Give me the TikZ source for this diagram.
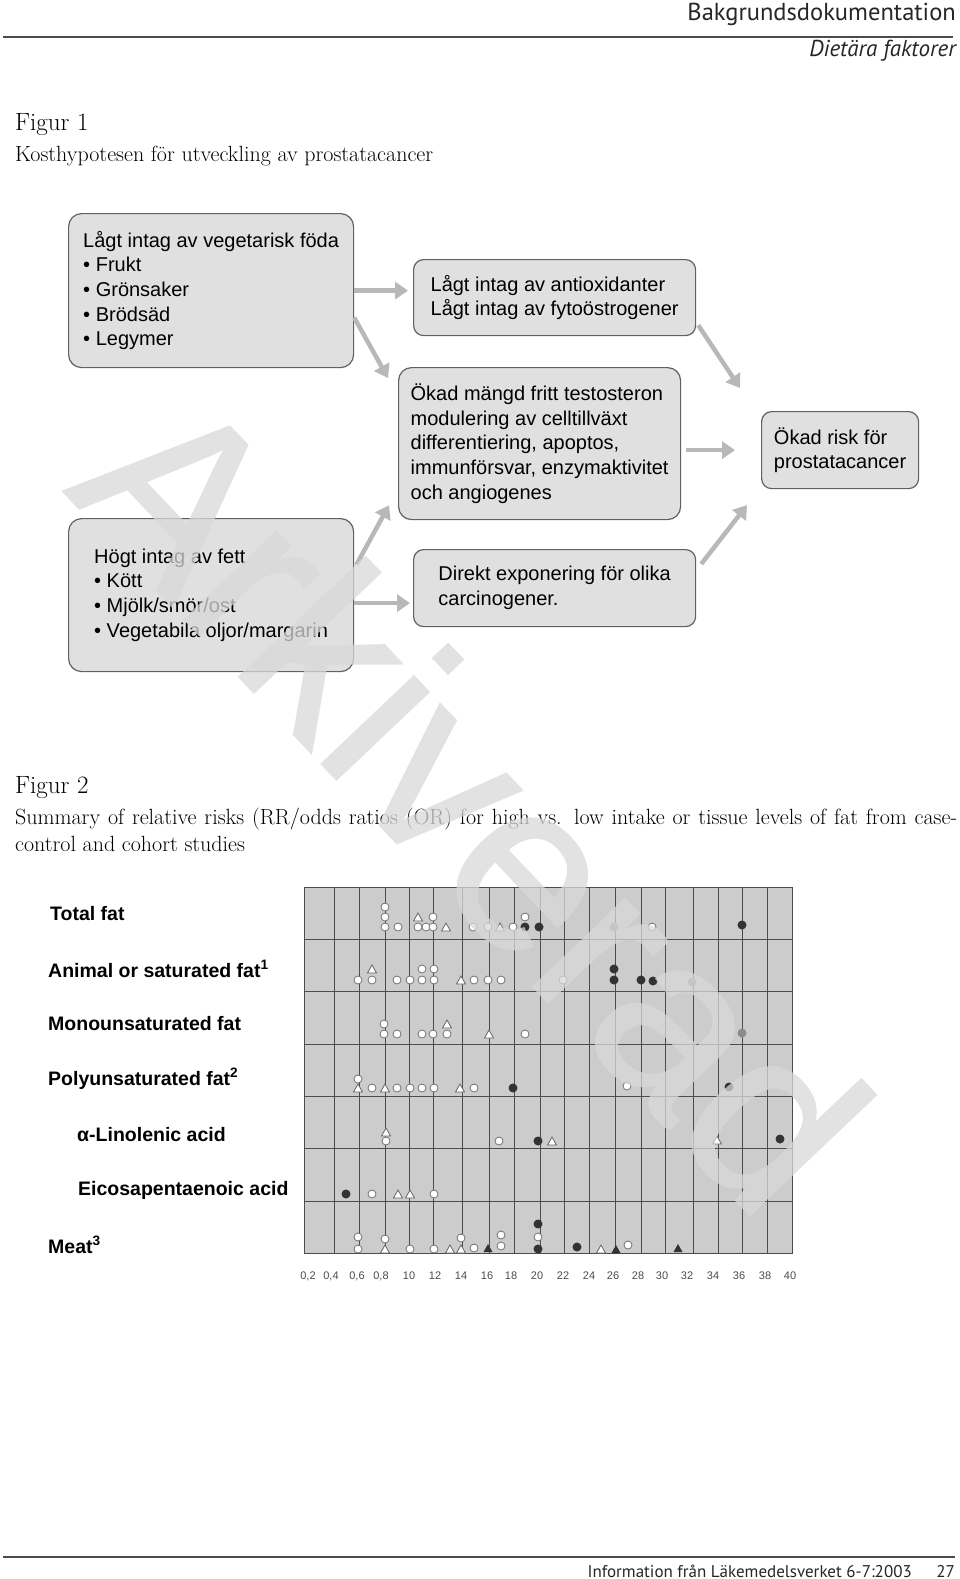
\documentclass[tikz,border=0pt]{standalone}
\usepackage{fontspec}
\newfontfamily\arialfont{Liberation Sans}
\newfontfamily\wmfont[FakeBold=1]{Liberation Sans}
\newfontfamily\headfont{PT Sans}
\usetikzlibrary{arrows.meta}

\begin{document}
\begin{tikzpicture}[
  x=1pt,y=-1pt,
  headtxt/.style={anchor=base east,inner sep=0pt,text=black!85},
  pagerule/.style={draw=black!70,line width=1.3pt},
  captxt/.style={anchor=base west,inner sep=0pt,font=\fontsize{22}{26}\selectfont},
  box/.style={draw=black!62,line width=1.2pt,fill=black!12,rounded corners=13pt,anchor=north west,
    align=left,inner sep=0pt,font=\arialfont\fontsize{20}{24.7}\selectfont},
  flow/.style={-{Triangle[length=13pt,width=17pt]},line width=4.5pt,draw=black!28},
  lbl/.style={anchor=west,inner sep=0pt,font=\arialfont\bfseries\fontsize{19.5}{20}\selectfont},
  tick/.style={inner sep=0pt,text=black!70,font=\arialfont\fontsize{11}{11}\selectfont},
  chartbg/.style={fill=black!20},
  gridln/.style={draw=black!70,line width=1pt},
  ocirc/.style={draw=black!55,fill=white,line width=.8pt},
  otri/.style={draw=black!60,fill=white,line width=.8pt},
  fdot/.style={fill=black!80},
  gdot/.style={fill=black!45},
  wmark/.style={inner sep=0pt,text=black!15,font=\wmfont\fontsize{240}{240}\selectfont}
]
\useasboundingbox (0,0) rectangle (960,1579);
\fill[white] (0,0) rectangle (960,1579);

% page header
\node[headtxt,font=\headfont\fontsize{24.5}{24}\selectfont] (head) at (956,21) {Bakgrundsdokumentation};
\draw[pagerule] (3,37) -- (953,37);
\node[headtxt,font=\headfont\itshape\fontsize{23}{21}\selectfont] (sect) at (956,57) {Dietära faktorer};

% Figur 1
\node[captxt,font=\fontsize{25}{25}\selectfont] (fig1) at (15,130) {Figur 1};
\node[captxt] (fig1txt) at (15,161) {Kosthypotesen för utveckling av prostatacancer};

\node[box,minimum width=285pt,minimum height=154pt] (veg) at (68,213)
  {Lågt intag av vegetarisk föda\\• Frukt\\• Grönsaker\\• Brödsäd\\• Legymer};
\node[box,rounded corners=10pt,minimum width=282pt,minimum height=76pt] (anti) at (413,259)
  {Lågt intag av antioxidanter\\Lågt intag av fytoöstrogener};
\node[box,minimum width=282pt,minimum height=152pt] (testo) at (398,367)
  {Ökad mängd fritt testosteron\\modulering av celltillväxt\\differentiering, apoptos,\\immunförsvar, enzymaktivitet\\och angiogenes};
\node[box,rounded corners=10pt,minimum width=157pt,minimum height=77pt] (risk) at (761,411)
  {Ökad risk för\\prostatacancer};
\node[box,minimum width=285pt,minimum height=153pt] (fett) at (68,518)
  {Högt intag av fett\\• Kött\\• Mjölk/smör/ost\\• Vegetabila oljor/margarin};
\node[box,rounded corners=10pt,minimum width=282pt,minimum height=77pt] (carc) at (413,549)
  {Direkt exponering för olika\\carcinogener.};

\draw[flow,shorten >=5pt] (veg.east) -- (veg.east -| anti.west);
\draw[flow] ([yshift=-27pt]veg.east) -- ([xshift=-10pt,yshift=-11pt]testo.north west);
\draw[flow] ([xshift=2pt,yshift=11pt]anti.south east) -- ([xshift=-21pt,yshift=23pt]risk.north west);
\draw[flow,shorten <=5pt,shorten >=26pt] (testo.east |- risk.west) -- (risk.west);
\draw[flow] ([xshift=2pt,yshift=30pt]fett.east) -- ([xshift=-9pt,yshift=15pt]testo.south west);
\draw[flow,shorten >=3pt] ([yshift=-8pt]fett.east) -- ([yshift=-8pt]fett.east -| carc.west);
\draw[flow] ([xshift=5pt,yshift=-15pt]carc.north east) -- ([xshift=-14pt,yshift=-16pt]risk.south west);

% Figur 2
\node[captxt,font=\fontsize{25}{25}\selectfont] (fig2) at (15,793) {Figur 2};
\node[captxt] (fig2a) at (15,824)
  {\makebox[942pt][s]{Summary of relative risks (RR/odds ratios (OR) for high vs. low intake or tissue levels of fat from case-}};
\node[captxt] (fig2b) at (15,851) {control and cohort studies};

% chart
\fill[chartbg] (304,887) rectangle (792,1253);
\foreach \gx in {334,359,385,409,433,462,489,514,540,564,589,615,641,665,693,718,742,767}
  \draw[gridln] (\gx,887) -- (\gx,1253);
\foreach \gy in {939,991,1044,1096,1148,1201}
  \draw[gridln] (304,\gy) -- (792,\gy);
\draw[gridln] (304,887) rectangle (792,1253);

\node[lbl] (total) at (50,914) {Total fat};
\node[lbl] (animal) at (48,969) {Animal or saturated fat\textsuperscript{1}};
\node[lbl] (mono) at (48,1024) {Monounsaturated fat};
\node[lbl] (poly) at (48,1079) {Polyunsaturated fat\textsuperscript{2}};
\node[lbl] (alin) at (77,1135) {α-Linolenic acid};
\node[lbl] (epa) at (78,1190) {Eicosapentaenoic acid};
\node[lbl] (meat) at (48,1245) {Meat\textsuperscript{3}};

\foreach \tx/\tl [count=\i] in {308/{0,2},331/{0,4},357/{0,6},381/{0,8},409/10,435/12,461/14,487/16,
    511/18,537/20,563/22,589/24,613/26,638/28,662/30,687/32,713/34,739/36,765/38,790/40}
  \node[tick] (tick\i) at (\tx,1276) {\tl};

% markers
\foreach \mx/\my in {385/907,385/917,385/927,398/927,418/927,426/927,433/917,433/927,473/927,488/927,513/927,525/917,652/927,
    358/980,372/980,397/980,410/980,422/969,422/980,434/969,434/980,474/980,488/980,501/980,563/980,
    384/1024,384/1034,397/1034,422/1034,433/1034,447/1034,525/1034,
    358/1079,372/1088,397/1088,410/1088,422/1088,434/1088,474/1088,627/1086,
    386/1141,499/1141,372/1194,434/1194,
    358/1237,358/1249,385/1239,410/1249,434/1249,461/1238,474/1248,501/1235,501/1246,538/1237,628/1245}
  \draw[ocirc] (\mx,\my) circle (4pt);
\foreach \mx/\my in {418/917,446/927,500/927,372/969,461/980,447/1024,489/1034,358/1088,385/1088,460/1088,
    386/1132,552/1141,717/1140,398/1194,410/1194,385/1249,450/1249,461/1249,601/1249}
  \draw[otri] (\mx,\my) ++(-4.5pt,-4pt) -- ++(9pt,0pt) -- ++(-4.5pt,8pt) -- cycle;
\foreach \mx/\my in {525/927,539/927,742/925,614/969,614/980,641/980,653/981,513/1088,729/1087,
    538/1141,780/1139,346/1194,538/1224,538/1249,577/1247}
  \fill[fdot] (\mx,\my) circle (4.5pt);
\foreach \mx/\my in {614/927,692/982,742/1033}
  \fill[gdot] (\mx,\my) circle (4.5pt);
\foreach \mx/\my in {488/1248,616/1249,678/1248}
  \fill[fdot] (\mx,\my) ++(-4.5pt,-4pt) -- ++(9pt,0pt) -- ++(-4.5pt,8pt) -- cycle;

% page footer
\draw[pagerule] (3,1557) -- (955,1557);
\node[headtxt,font=\headfont\fontsize{17}{17}\selectfont] (foot) at (912,1577) {Information från Läkemedelsverket 6-7:2003};
\node[headtxt,font=\headfont\fontsize{17}{17}\selectfont] (page) at (955,1577) {27};

% watermark
\begin{scope}[transparency group,opacity=.75]
\node[wmark,rotate=-46.5,anchor=base west] (wm) at (63,491) {Arkiverad};
\end{scope}
\end{tikzpicture}
\end{document}
